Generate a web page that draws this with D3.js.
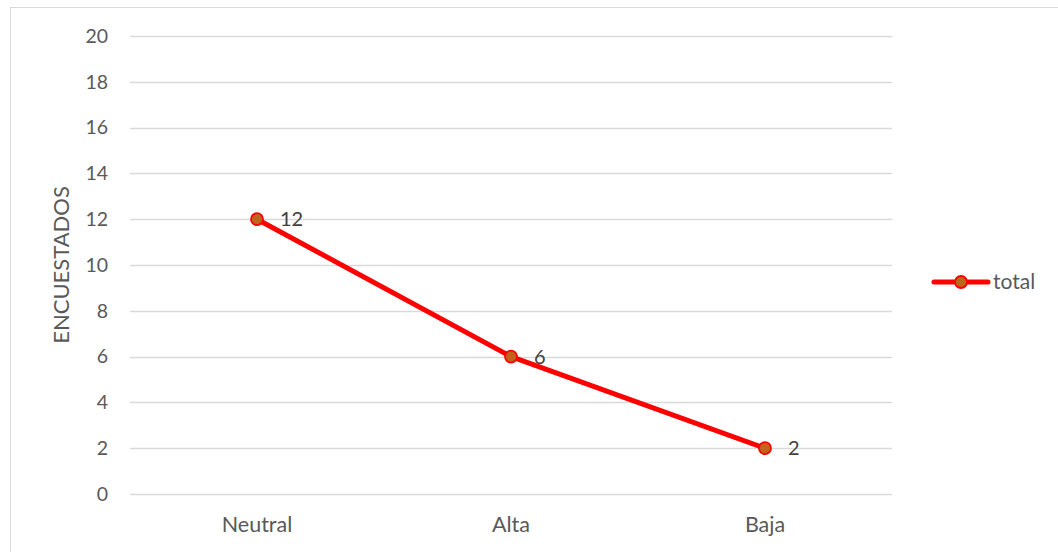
<!DOCTYPE html>
<html>
<head>
<meta charset="utf-8">
<script src="https://cdn.jsdelivr.net/npm/d3@7"></script>
<style>
  html, body { margin: 0; padding: 0; background: #fff; }
  svg { display: block; font-family: Lato, "Open Sans", sans-serif; }
</style>
</head>
<body>
<svg id="chart" width="1058" height="552"></svg>
<script>
const categories = ["Neutral", "Alta", "Baja"];
const totals = [12, 6, 2];
const yTicks = [0, 2, 4, 6, 8, 10, 12, 14, 16, 18, 20];
const seriesName = "total";
const yTitle = "ENCUESTADOS";

const svg = d3.select("#chart");
const W = 1058, H = 552;
const plot = { left: 130, right: 892, top: 36, bottom: 494 };
const FONT = "Lato, 'Open Sans', sans-serif";

// chart frame
svg.append("rect")
  .attr("x", 10.5).attr("y", 7.5)
  .attr("width", W + 20).attr("height", H + 20)
  .attr("fill", "#fff").attr("stroke", "#d9d9d9").attr("stroke-width", 1);

const x = d3.scaleBand().domain(categories).range([plot.left, plot.right]);
const y = d3.scaleLinear().domain([0, 20]).range([plot.bottom, plot.top]);

// gridlines
svg.append("g").selectAll("line").data(yTicks).join("line")
  .attr("x1", plot.left).attr("x2", plot.right)
  .attr("y1", d => Math.round(y(d)) + 0.5).attr("y2", d => Math.round(y(d)) + 0.5)
  .attr("stroke", "#d9d9d9").attr("stroke-width", 1.3);

// y axis labels
const yAxis = svg.append("g")
  .attr("transform", `translate(${plot.left},0)`)
  .call(d3.axisLeft(y).tickValues(yTicks).tickSize(0).tickPadding(22));
yAxis.select(".domain").remove();
yAxis.attr("font-size", 19.5).attr("font-family", FONT);
yAxis.selectAll("text").attr("fill", "#595959");

// x axis labels
const xAxis = svg.append("g")
  .attr("transform", `translate(0,${plot.bottom})`)
  .call(d3.axisBottom(x).tickSize(0).tickPadding(23));
xAxis.select(".domain").remove();
xAxis.attr("font-size", 21.5).attr("font-family", FONT);
xAxis.selectAll("text").attr("fill", "#595959");

// y axis title
svg.append("text")
  .attr("transform", `translate(61,${(plot.top + plot.bottom) / 2}) rotate(-90)`)
  .attr("text-anchor", "middle").attr("dy", "0.35em")
  .attr("font-size", 22).attr("fill", "#595959")
  .text(yTitle);

const cx = d => x(d) + x.bandwidth() / 2;
const data = categories.map((c, i) => ({ c, v: totals[i] }));

// series line
svg.append("path")
  .datum(data)
  .attr("fill", "none")
  .attr("stroke", "#ff0000")
  .attr("stroke-width", 5)
  .attr("stroke-linejoin", "round")
  .attr("d", d3.line().x(d => cx(d.c)).y(d => y(d.v)));

// markers
svg.append("g").selectAll("circle").data(data).join("circle")
  .attr("cx", d => cx(d.c)).attr("cy", d => y(d.v))
  .attr("r", 6)
  .attr("fill", "#c0631d").attr("stroke", "#ff0000").attr("stroke-width", 1.8);

// value labels
svg.append("g").selectAll("text").data(data).join("text")
  .attr("x", d => cx(d.c) + 23).attr("y", d => y(d.v))
  .attr("dy", "0.35em")
  .attr("font-size", 20).attr("fill", "#404040")
  .text(d => d.v);

// legend
const ly = 282;
const legend = svg.append("g");
legend.append("line")
  .attr("x1", 934).attr("x2", 988).attr("y1", ly).attr("y2", ly)
  .attr("stroke", "#ff0000").attr("stroke-width", 5).attr("stroke-linecap", "round");
legend.append("circle")
  .attr("cx", 961).attr("cy", ly).attr("r", 6)
  .attr("fill", "#c0631d").attr("stroke", "#ff0000").attr("stroke-width", 1.8);
legend.append("text")
  .attr("x", 993).attr("y", ly).attr("dy", "0.35em")
  .attr("font-size", 21).attr("fill", "#595959")
  .text(seriesName);
</script>
</body>
</html>
